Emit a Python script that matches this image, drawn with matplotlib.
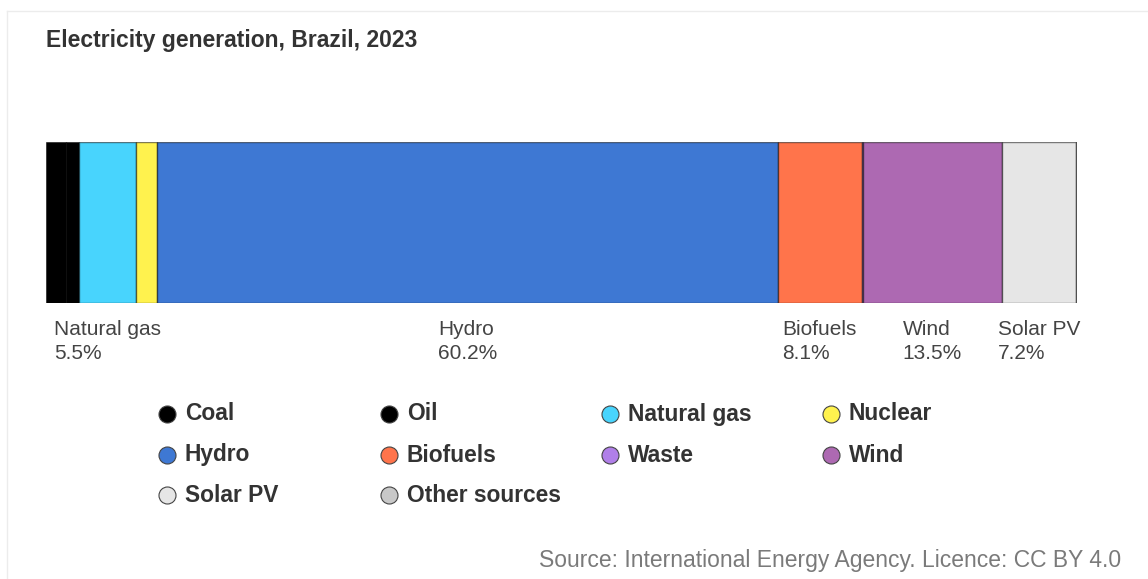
import numpy as np
import matplotlib.pyplot as plt

plt.rcParams['font.family'] = ['Liberation Sans', 'DejaVu Sans']

W, H = 1148, 579

sources = ['Coal', 'Oil', 'Natural gas', 'Nuclear', 'Hydro', 'Biofuels',
           'Waste', 'Wind', 'Solar PV', 'Other sources']
shares = [1.9, 1.3, 5.5, 2.1, 60.2, 8.1, 0.1, 13.5, 7.2, 0.1]
colors = ['#000000', '#000000', '#48d4fd', '#fff24e', '#3e78d3', '#ff744b',
          '#b07fe8', '#ad69b2', '#e6e6e6', '#c8c8c8']
label_min = 5.0

fig = plt.figure(figsize=(W / 100, H / 100), dpi=100)
fig.patch.set_facecolor('white')

# faint frame lines along the top and left
bg = fig.add_axes([0, 0, 1, 1])
bg.set_xlim(0, W)
bg.set_ylim(H, 0)
bg.axis('off')
bg.plot([7, W], [11, 11], color='#ececec', lw=1)
bg.plot([7, 7], [11, H], color='#ececec', lw=1)

bg.text(46, 41, 'Electricity generation, Brazil, 2023', fontsize=16.5,
        fontweight='bold', color='#333333', va='center', ha='left')

# stacked single bar
ax = fig.add_axes([46 / W, (H - 303) / H, 1031 / W, 161 / H])
total = sum(shares)
left = np.concatenate([[0], np.cumsum(shares)[:-1]])
ax.barh([0], shares, left=left, height=1.0, color=colors,
        edgecolor=(0, 0, 0, 0.5), linewidth=1.0)
ax.set_xlim(0, total)
ax.set_ylim(-0.5, 0.5)
ax.axis('off')

for name, v, l in zip(sources, shares, left):
    if v >= label_min:
        ax.annotate(f'{name}\n{v:.1f}%', xy=(l + v / 2, -0.5),
                    xytext=(0, -12), textcoords='offset points',
                    ha='center', va='top', multialignment='left',
                    fontsize=15, color='#444444', linespacing=1.35,
                    annotation_clip=False)

# legend grid, four per row
col_x = [167, 389, 610, 831]
row_y = [414, 455, 495]
for i, (name, c) in enumerate(zip(sources, colors)):
    x = col_x[i % 4]
    y = row_y[i // 4]
    bg.scatter([x], [y], s=150, color=c, edgecolor='#444444', linewidth=0.8,
               zorder=3)
    bg.text(x + 18, y, name, fontsize=16.4, fontweight='bold',
            color='#333333', va='center', ha='left')

bg.text(1121, 560, 'Source: International Energy Agency. Licence: CC BY 4.0',
        fontsize=16.5, color='#7a7a7a', va='center', ha='right')

fig.savefig('out.png', dpi=100, facecolor='white')
